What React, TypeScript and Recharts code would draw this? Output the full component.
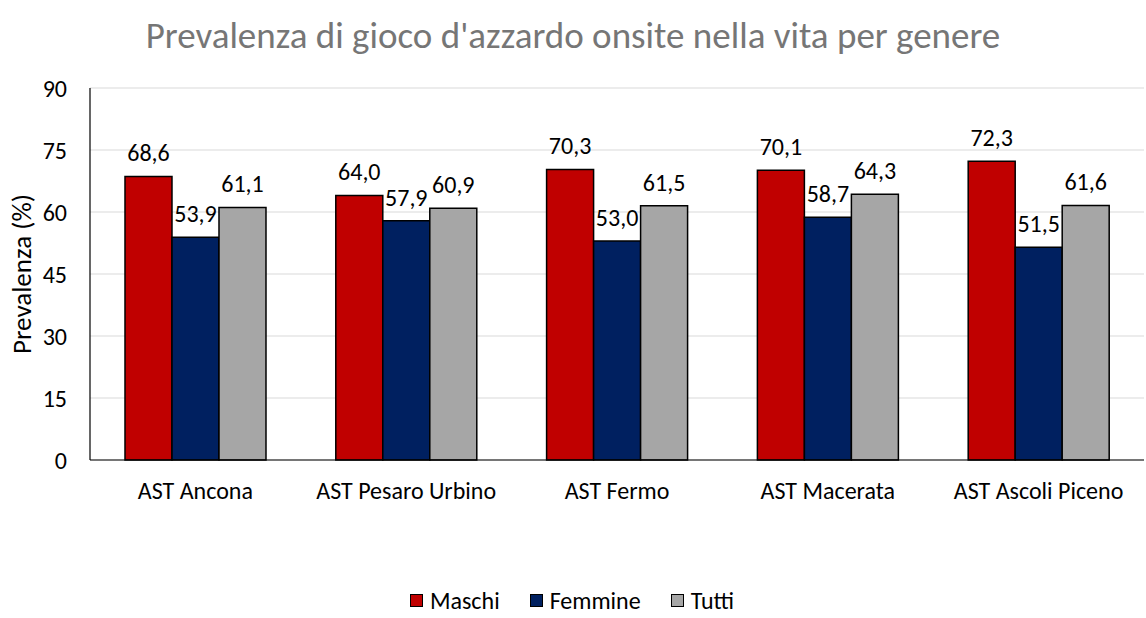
import { Bar, BarChart, CartesianGrid, LabelList, Legend, XAxis, YAxis } from "recharts"

const categories = [
  "AST Ancona",
  "AST Pesaro Urbino",
  "AST Fermo",
  "AST Macerata",
  "AST Ascoli Piceno",
]
const maschi = [68.6, 64.0, 70.3, 70.1, 72.3]
const femmine = [53.9, 57.9, 53.0, 58.7, 51.5]
const tutti = [61.1, 60.9, 61.5, 64.3, 61.6]
const yTicks = [0, 15, 30, 45, 60, 75, 90]

const series = [
  { key: "maschi", name: "Maschi", color: "#C00000" },
  { key: "femmine", name: "Femmine", color: "#002060" },
  { key: "tutti", name: "Tutti", color: "#A6A6A6" },
]

const data = categories.map((name, i) => ({
  name,
  maschi: maschi[i],
  femmine: femmine[i],
  tutti: tutti[i],
}))

const FONT = "Calibri, Carlito, 'Open Sans', sans-serif"
const fmt = (v: number) => v.toFixed(1).replace(".", ",")

function ChartLegend() {
  return (
    <div
      style={{
        display: "flex",
        justifyContent: "center",
        alignItems: "center",
        height: 36,
        gap: 30,
        fontSize: 24,
        fontFamily: FONT,
        color: "#000",
      }}
    >
      {series.map((s) => (
        <span key={s.key} style={{ display: "flex", alignItems: "center" }}>
          <span
            style={{
              display: "inline-block",
              width: 11,
              height: 11,
              background: s.color,
              border: "1.5px solid #000",
              marginRight: 7,
            }}
          />
          {s.name}
        </span>
      ))}
    </div>
  )
}

function YLabel({ viewBox }: { viewBox?: any }) {
  if (!viewBox) return null
  const cx = viewBox.x + 21
  const cy = viewBox.y + viewBox.height / 2
  return (
    <text
      x={cx}
      y={cy}
      transform={`rotate(-90 ${cx} ${cy})`}
      textAnchor="middle"
      dominantBaseline="central"
      fontSize={27}
      fontFamily={FONT}
      fill="#000"
    >
      Prevalenza (%)
    </text>
  )
}

export default function App() {
  return (
    <div
      style={{
        position: "fixed",
        top: 0,
        left: 0,
        width: 1146,
        height: 618,
        background: "#fff",
        fontFamily: FONT,
      }}
    >
      <div
        style={{
          position: "absolute",
          top: 12,
          left: 0,
          width: 1146,
          textAlign: "center",
          fontSize: 37,
          lineHeight: "48px",
          color: "#767676",
        }}
      >
        Prevalenza di gioco d'azzardo onsite nella vita per genere
      </div>
      <BarChart
        width={1146}
        height={618}
        data={data}
        margin={{ top: 88, right: 2, left: 0, bottom: 0 }}
        barCategoryGap="16.6%"
        barGap={0}
      >
        <CartesianGrid vertical={false} stroke="#D9D9D9" strokeWidth={1} />
        <XAxis
          dataKey="name"
          height={122}
          tickSize={0}
          tickMargin={22}
          tick={{ fill: "#000", fontSize: 24, fontFamily: FONT }}
          axisLine={{ stroke: "#000", strokeWidth: 1.2 }}
          tickLine={false}
        />
        <YAxis
          width={90}
          domain={[0, 90]}
          ticks={yTicks}
          interval={0}
          tickSize={0}
          tickMargin={23}
          tick={{ fill: "#000", fontSize: 24, fontFamily: FONT }}
          axisLine={{ stroke: "#000", strokeWidth: 1.2 }}
          tickLine={false}
          label={<YLabel />}
        />
        <Legend verticalAlign="bottom" content={<ChartLegend />} />
        {series.map((s) => (
          <Bar
            key={s.key}
            dataKey={s.key}
            name={s.name}
            fill={s.color}
            stroke="#000"
            strokeWidth={1.5}
            isAnimationActive={false}
          >
            <LabelList
              dataKey={s.key}
              position="top"
              offset={15}
              formatter={(v: any) => fmt(Number(v))}
              fill="#000"
              fontSize={24}
              fontFamily={FONT}
            />
          </Bar>
        ))}
      </BarChart>
    </div>
  )
}
